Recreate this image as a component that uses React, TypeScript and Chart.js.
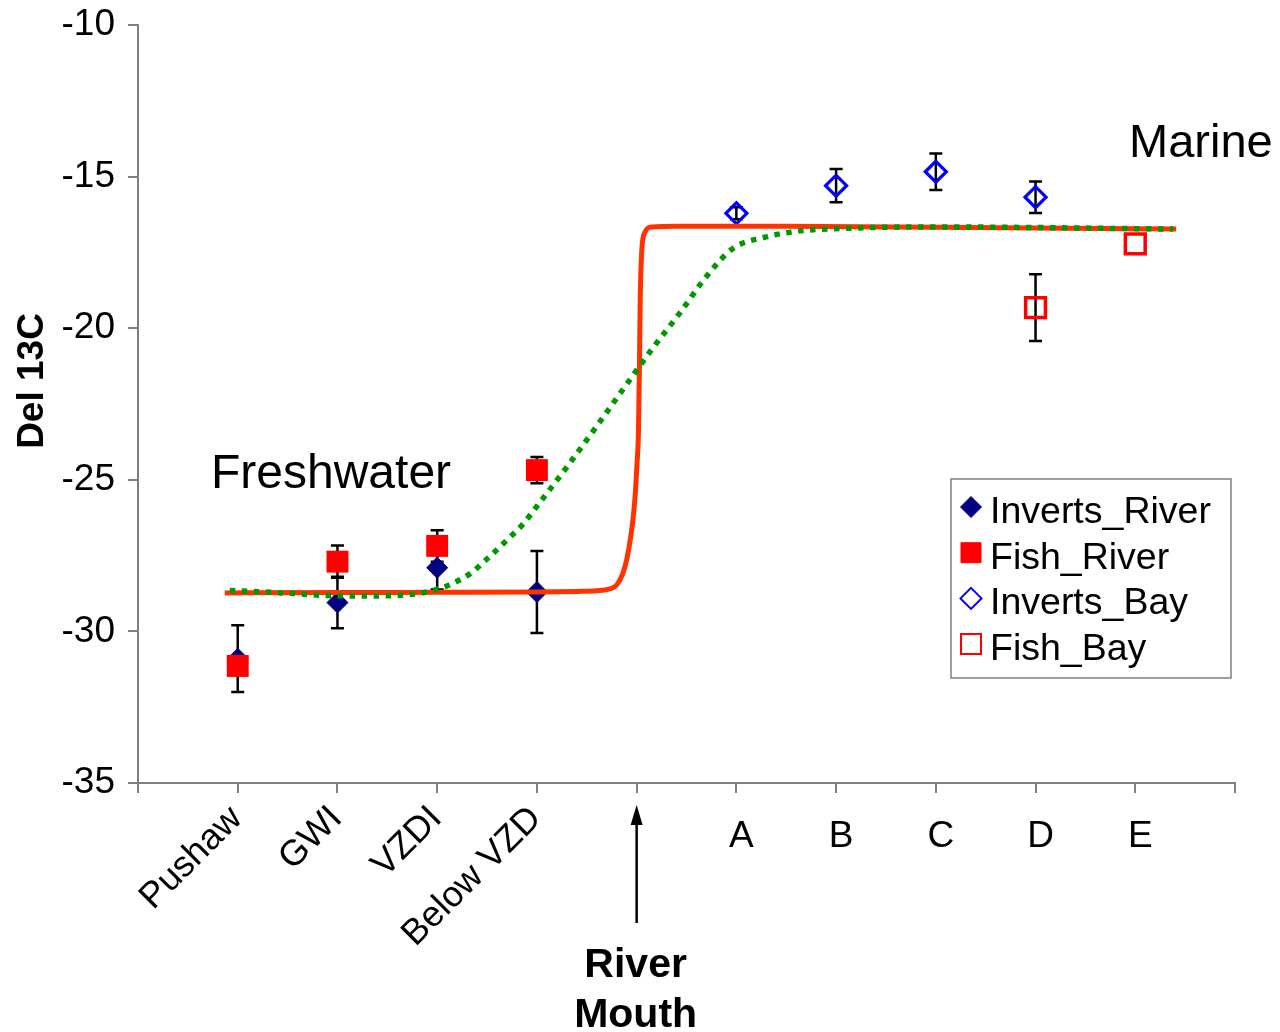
import React, { useEffect, useRef } from 'react';
import { Chart, registerables } from 'chart.js';
Chart.register(...registerables);

const FONT = '"Liberation Sans", Arial, Helvetica, sans-serif';

// Category positions along the estuary (linear x)
const riverSites = ['Pushaw', 'GWI', 'VZDI', 'Below VZD'];
const riverSiteX = [1, 2, 3, 4];
const baySites = ['A', 'B', 'C', 'D', 'E'];
const baySiteX = [6, 7, 8, 9, 10];
const mouthX = 5;
const yTicks = [-35, -30, -25, -20, -15, -10];

// Series values (Del 13C) and error bar half-widths
const invertsRiverX = [1, 2, 3, 4];
const invertsRiverY = [-30.9, -29.05, -27.9, -28.7];
const invertsRiverErr = [1.1, 0.85, 0.72, 1.35];

const fishRiverX = [1, 2, 3, 4];
const fishRiverY = [-31.14, -27.7, -27.18, -24.68];
const fishRiverErr = [0, 0.53, 0.52, 0.43];

const invertsBayX = [6, 7, 8, 9];
const invertsBayY = [-16.21, -15.3, -14.84, -15.68];
const invertsBayErr = [0.2, 0.55, 0.6, 0.52];

const fishBayX = [9, 10];
const fishBayY = [-19.32, -17.22];
const fishBayErr = [1.1, 0];

// Sharp mixing curve (red)
const stepCurveX = [0.87, 2.0, 3.0, 4.0, 4.4, 4.6, 4.73, 4.8, 4.86, 4.9, 4.94, 4.97, 4.99, 5.005, 5.018, 5.028, 5.036, 5.052, 5.085, 5.15, 5.4, 6.5, 8.0, 10.41];
const stepCurveY = [-28.73, -28.72, -28.71, -28.7, -28.68, -28.66, -28.6, -28.47, -28.1, -27.64, -26.9, -26.1, -25.3, -24.4, -23.46, -21.28, -19.07, -17.42, -16.83, -16.66, -16.64, -16.64, -16.67, -16.73];

// Gradual mixing curve (green dotted)
const smoothCurveX = [0.92, 1.45, 2.06, 2.42, 2.66, 2.9, 3.12, 3.34, 3.51, 3.69, 3.86, 4.01, 4.3, 4.63, 4.93, 5.17, 5.44, 5.71, 5.97, 6.31, 6.64, 7.14, 7.97, 10.38];
const smoothCurveY = [-28.65, -28.73, -28.83, -28.83, -28.8, -28.7, -28.47, -28.07, -27.58, -27.02, -26.46, -25.83, -24.58, -23.09, -21.71, -20.62, -19.47, -18.25, -17.36, -16.98, -16.79, -16.7, -16.66, -16.73];

const pts = (xs: number[], ys: number[]) => xs.map((x, i) => ({ x, y: ys[i] }));

const errorSets = [
  { xs: invertsRiverX, ys: invertsRiverY, err: invertsRiverErr },
  { xs: fishRiverX, ys: fishRiverY, err: fishRiverErr },
  { xs: invertsBayX, ys: invertsBayY, err: invertsBayErr },
  { xs: fishBayX, ys: fishBayY, err: fishBayErr },
];

const legendItems = [
  { label: 'Inverts_River', shape: 'diamond', fill: '#000080', stroke: '#000080', lw: 1 },
  { label: 'Fish_River', shape: 'square', fill: '#FF0000', stroke: '#FF0000', lw: 1 },
  { label: 'Inverts_Bay', shape: 'diamond', fill: null, stroke: '#0000FF', lw: 2 },
  { label: 'Fish_Bay', shape: 'square', fill: null, stroke: '#FF0000', lw: 2 },
];

function drawMarker(ctx: CanvasRenderingContext2D, shape: string, cx: number, cy: number, half: number, fill: string | null, stroke: string, lw: number) {
  ctx.beginPath();
  if (shape === 'diamond') {
    ctx.moveTo(cx, cy - half);
    ctx.lineTo(cx + half, cy);
    ctx.lineTo(cx, cy + half);
    ctx.lineTo(cx - half, cy);
    ctx.closePath();
  } else {
    ctx.rect(cx - half, cy - half, half * 2, half * 2);
  }
  if (fill) {
    ctx.fillStyle = fill;
    ctx.fill();
  }
  ctx.lineWidth = lw;
  ctx.strokeStyle = stroke;
  ctx.stroke();
}

const errorBarPlugin = {
  id: 'errorBars',
  beforeDatasetsDraw(chart: any) {
    const { ctx, scales } = chart;
    const x = scales.x, y = scales.y;
    ctx.save();
    ctx.strokeStyle = '#000';
    ctx.lineWidth = 2.5;
    errorSets.forEach((set) => {
      set.xs.forEach((xv, i) => {
        const e = set.err[i];
        if (!e) return;
        const px = x.getPixelForValue(xv);
        const yt = y.getPixelForValue(set.ys[i] + e);
        const yb = y.getPixelForValue(set.ys[i] - e);
        ctx.beginPath();
        ctx.moveTo(px, yt);
        ctx.lineTo(px, yb);
        ctx.moveTo(px - 6.5, yt);
        ctx.lineTo(px + 6.5, yt);
        ctx.moveTo(px - 6.5, yb);
        ctx.lineTo(px + 6.5, yb);
        ctx.stroke();
      });
    });
    ctx.restore();
  },
};

const annotationPlugin = {
  id: 'annotations',
  afterDraw(chart: any) {
    const { ctx, scales } = chart;
    const x = scales.x;
    ctx.save();
    ctx.fillStyle = '#000';

    // rotated river site labels
    ctx.font = `36px ${FONT}`;
    riverSites.forEach((lab, i) => {
      const px = x.getPixelForValue(riverSiteX[i]);
      ctx.save();
      ctx.translate(px - 1, 813);
      ctx.rotate(-Math.PI / 4);
      ctx.textAlign = 'right';
      ctx.textBaseline = 'middle';
      ctx.fillText(lab, 0, 0);
      ctx.restore();
    });

    // bay site letters
    ctx.font = `37px ${FONT}`;
    ctx.textAlign = 'center';
    ctx.textBaseline = 'alphabetic';
    baySites.forEach((lab, i) => {
      const px = x.getPixelForValue(baySiteX[i]);
      ctx.fillText(lab, px + 5, 847);
    });

    // river mouth arrow
    const mx = x.getPixelForValue(mouthX);
    ctx.strokeStyle = '#000';
    ctx.lineWidth = 2.5;
    ctx.beginPath();
    ctx.moveTo(mx, 923);
    ctx.lineTo(mx, 822);
    ctx.stroke();
    ctx.beginPath();
    ctx.moveTo(mx, 805);
    ctx.lineTo(mx - 6, 825);
    ctx.lineTo(mx + 6, 825);
    ctx.closePath();
    ctx.fill();

    ctx.font = `bold 41px ${FONT}`;
    ctx.textAlign = 'center';
    ctx.fillText('River', mx - 1, 977);
    ctx.fillText('Mouth', mx - 1, 1027);

    // region labels
    ctx.textAlign = 'left';
    ctx.font = `48px ${FONT}`;
    ctx.fillText('Freshwater', 211, 488);
    ctx.font = `47px ${FONT}`;
    ctx.fillText('Marine', 1129, 157);

    // y axis title
    ctx.save();
    ctx.translate(33, 381);
    ctx.rotate(-Math.PI / 2);
    ctx.font = `bold 37px ${FONT}`;
    ctx.textAlign = 'center';
    ctx.textBaseline = 'middle';
    ctx.fillText('Del 13C', 0, 0);
    ctx.restore();

    // legend
    const bx = 951, by = 479, bw = 280, bh = 199;
    ctx.fillStyle = '#fff';
    ctx.fillRect(bx, by, bw, bh);
    ctx.strokeStyle = '#808080';
    ctx.lineWidth = 1.5;
    ctx.strokeRect(bx, by, bw, bh);
    ctx.font = `37.5px ${FONT}`;
    ctx.textAlign = 'left';
    ctx.textBaseline = 'alphabetic';
    legendItems.forEach((it, i) => {
      const cy = 507 + i * 45.7;
      drawMarker(ctx, it.shape, 971, cy, it.shape === 'diamond' ? 10.5 : 10, it.fill, it.stroke, it.lw);
      ctx.fillStyle = '#000';
      ctx.fillText(it.label, 990, 523 + i * 45.7);
    });

    ctx.restore();
  },
};

export default function App() {
  const ref = useRef<HTMLCanvasElement | null>(null);

  useEffect(() => {
    if (!ref.current) return;
    const chart = new Chart(ref.current, {
      type: 'scatter',
      data: {
        datasets: [
          {
            label: 'Gradual',
            data: pts(smoothCurveX, smoothCurveY),
            showLine: true,
            borderColor: '#009900',
            borderWidth: 5.5,
            borderDash: [5.5, 6.5],
            borderCapStyle: 'butt',
            pointRadius: 0,
            tension: 0.4,
            cubicInterpolationMode: 'monotone',
            order: 0,
          },
          {
            label: 'Sharp',
            data: pts(stepCurveX, stepCurveY),
            showLine: true,
            borderColor: '#FF3300',
            borderWidth: 5,
            pointRadius: 0,
            tension: 0.4,
            cubicInterpolationMode: 'monotone',
            order: 1,
          },
          {
            label: 'Fish_Bay',
            data: pts(fishBayX, fishBayY),
            pointStyle: 'rect',
            pointRadius: 14,
            backgroundColor: 'rgba(0,0,0,0)',
            borderColor: '#FF0000',
            borderWidth: 3.5,
            order: 2,
          },
          {
            label: 'Inverts_Bay',
            data: pts(invertsBayX, invertsBayY),
            pointStyle: 'rectRot',
            pointRadius: 10.5,
            backgroundColor: 'rgba(0,0,0,0)',
            borderColor: '#0000FF',
            borderWidth: 3.2,
            order: 3,
          },
          {
            label: 'Fish_River',
            data: pts(fishRiverX, fishRiverY),
            pointStyle: 'rect',
            pointRadius: 15.5,
            backgroundColor: '#FF0000',
            borderColor: '#FF0000',
            borderWidth: 0,
            order: 4,
          },
          {
            label: 'Inverts_River',
            data: pts(invertsRiverX, invertsRiverY),
            pointStyle: 'rectRot',
            pointRadius: 10.5,
            backgroundColor: '#000080',
            borderColor: '#000080',
            borderWidth: 1,
            order: 5,
          },
        ],
      },
      options: {
        responsive: false,
        animation: false,
        events: [],
        layout: { padding: { top: 25, right: 45, left: 0, bottom: 0 } },
        plugins: { legend: { display: false }, tooltip: { enabled: false } },
        scales: {
          x: {
            type: 'linear',
            min: 0,
            max: 11,
            ticks: { stepSize: 1, display: false },
            grid: { drawOnChartArea: false, drawTicks: true, tickLength: 10, color: '#808080', lineWidth: 2 },
            border: { color: '#808080', width: 2 },
            afterFit: (s: any) => { s.height = 249; s.paddingLeft = 0; s.paddingRight = 0; },
          },
          y: {
            type: 'linear',
            min: -35,
            max: -10,
            afterBuildTicks: (s: any) => { s.ticks = yTicks.map((v) => ({ value: v })); },
            ticks: {
              font: { size: 37, family: FONT },
              color: '#000',
              padding: 13,
              callback: (v: any) => String(v),
            },
            grid: { drawOnChartArea: false, drawTicks: true, tickLength: 10, color: '#808080', lineWidth: 2 },
            border: { color: '#808080', width: 2 },
            afterFit: (s: any) => { s.width = 138; s.paddingTop = 0; s.paddingBottom = 0; },
          },
        },
      },
      plugins: [errorBarPlugin, annotationPlugin],
    } as any);
    return () => chart.destroy();
  }, []);

  return (
    <div style={{ position: 'fixed', left: 0, top: 0, width: 1280, height: 1032, background: '#fff' }}>
      <canvas ref={ref} width={1280} height={1032} style={{ width: 1280, height: 1032, display: 'block' }} />
    </div>
  );
}
